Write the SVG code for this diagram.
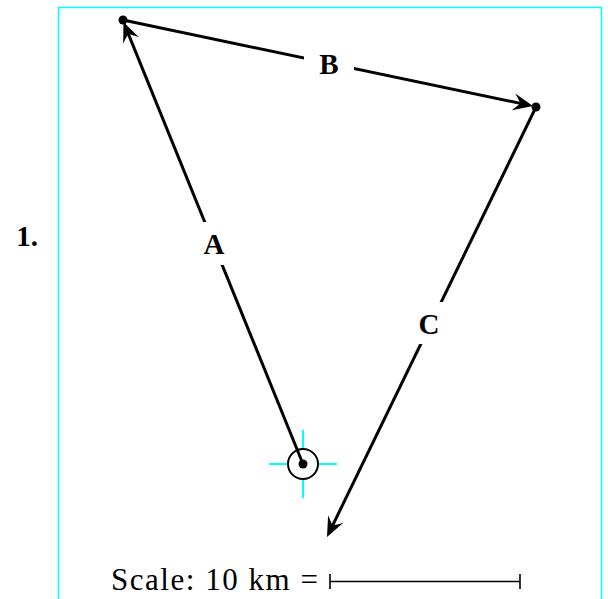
<svg xmlns="http://www.w3.org/2000/svg" width="608" height="599" viewBox="0 0 608 599">
<defs>
<style>
.edge{stroke:#000;stroke-width:3;fill:none;marker-end:url(#arr)}
.lbl{font-family:"Liberation Serif","DejaVu Serif",serif;font-weight:bold;font-size:29px;text-anchor:middle;fill:#000}
.bg{fill:#fff}
.dot{fill:#000}
.cross{stroke:#00ffff;stroke-width:2}
.sc{font-family:"Liberation Serif","DejaVu Serif",serif;font-size:31px;fill:#000}
.bar{stroke:#000;stroke-width:1.6}
</style>
<marker id="arr" markerUnits="userSpaceOnUse" markerWidth="30" markerHeight="24" viewBox="-22 -12 30 24" refX="-8" refY="0" orient="auto">
<path d="M0,0 L-20,-8.5 Q-15,-3 -13,0 Q-15,3 -20,8.5 Z" fill="#000"/>
</marker>
</defs>
<rect width="608" height="599" fill="#fff"/>
<path d="M58.5,600 V7.5 H601.5 V600" fill="none" stroke="#00ffff" stroke-width="1.5"/>
<text x="27" y="246" class="lbl">1.</text>
<g id="start">
<line x1="269" y1="464" x2="337" y2="464" class="cross"/>
<line x1="303" y1="430" x2="303" y2="498" class="cross"/>
<circle cx="303" cy="464" r="15" fill="#fff" stroke="#000" stroke-width="2"/>
</g>
<g id="connectors">
<line x1="303" y1="464" x2="126.5" y2="29.4" class="edge"/>
<line x1="123" y1="20" x2="525.2" y2="104.4" class="edge"/>
<line x1="536" y1="107" x2="330.5" y2="529.8" class="edge"/>
<rect class="bg" x="196" y="222" width="36" height="43"/>
<text x="214" y="254" class="lbl">A</text>
<rect class="bg" x="304" y="45" width="50" height="38"/>
<text x="329" y="74" class="lbl">B</text>
<rect class="bg" x="411" y="302" width="36" height="42"/>
<text x="429" y="334" class="lbl">C</text>
</g>
<g id="p0"><circle class="dot" cx="303" cy="464" r="4.5"/></g>
<g id="p1"><circle class="dot" cx="123" cy="20" r="4.5"/></g>
<g id="p2"><circle class="dot" cx="536" cy="107" r="4.5"/></g>
<g id="scale">
<text class="sc" x="111" y="590" textLength="207" lengthAdjust="spacing">Scale: 10 km =</text>
<line x1="330" y1="581.5" x2="520" y2="581.5" class="bar"/>
<line x1="330" y1="574" x2="330" y2="589" class="bar"/>
<line x1="520" y1="574" x2="520" y2="589" class="bar"/>
</g>
</svg>
